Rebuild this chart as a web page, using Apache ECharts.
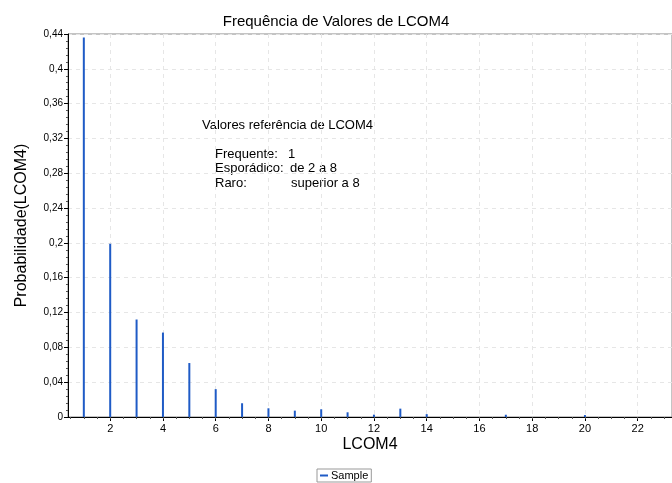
<!DOCTYPE html>
<html>
<head>
<meta charset="utf-8">
<script src="https://cdn.jsdelivr.net/npm/echarts@6/dist/echarts.min.js"></script>
<style>
    html, body { margin: 0; padding: 0; background: #fff; }
    #chart { width: 672px; height: 483px; }
</style>
</head>
<body>
<div id="chart"></div>
<script>
// valores de LCOM4 e probabilidade de cada um
const lcomValues = [1, 2, 3, 4, 5, 6, 7, 8, 9, 10, 11, 12, 13, 14, 17, 20];
const probabilities = [0.436, 0.199, 0.112, 0.097, 0.062, 0.032, 0.0158, 0.0100, 0.0073, 0.0089, 0.0054, 0.0027, 0.0096, 0.0033, 0.0026, 0.0022];
const yTicks = [0, 0.04, 0.08, 0.12, 0.16, 0.2, 0.24, 0.28, 0.32, 0.36, 0.4, 0.44];
const xTicks = [2, 4, 6, 8, 10, 12, 14, 16, 18, 20, 22];

// marcas menores do eixo x a cada 0,5
const xMinor = [];
for (let v = 0.5; v < 23.3; v += 0.5) xMinor.push(v);

const font = 'Liberation Sans, Arial, sans-serif';
const chart = echarts.init(document.getElementById('chart'));

const fmt = v => String(+v.toFixed(2)).replace('.', ',');

const options = {
    animation: false,
    title: {
        text: 'Frequência de Valores de LCOM4',
        left: 'center',
        top: 9,
        textStyle: { fontFamily: font, fontSize: 15, fontWeight: 'normal', color: '#000' }
    },
    legend: {
        bottom: 1,
        left: 317,
        data: [{ name: 'Sample', icon: 'rect' }],
        itemWidth: 8,
        itemHeight: 2,
        itemGap: 4,
        padding: [1, 3, 1, 3],
        borderColor: '#999',
        borderWidth: 1,
        borderRadius: 0,
        textStyle: { fontFamily: font, fontSize: 11, color: '#000', padding: [0, 0, 0, -2] }
    },
    grid: {
        left: 68,
        right: 0,
        top: 34,
        bottom: 66,
        show: true,
        borderColor: '#888',
        borderWidth: 1
    },
    xAxis: [
        {
            type: 'value',
            min: 0.4,
            max: 23.3,
            name: 'LCOM4',
            nameLocation: 'middle',
            nameGap: 20,
            nameMoveOverlap: false,
            nameTextStyle: { fontFamily: font, fontSize: 16, color: '#000' },
            axisLine: { show: true, lineStyle: { color: '#000', width: 1 } },
            axisTick: { show: true, length: 4, customValues: xTicks, lineStyle: { color: '#000' } },
            axisLabel: { fontFamily: font, fontSize: 11, color: '#000', margin: 6, customValues: xTicks },
            splitLine: { show: true, customValues: xTicks, lineStyle: { color: '#e6e6e6', type: [4, 4] } }
        },
        {
            type: 'value',
            position: 'bottom',
            min: 0.4,
            max: 23.3,
            axisLine: { show: false },
            axisTick: { show: true, length: 2, customValues: xMinor, lineStyle: { color: '#555' } },
            axisLabel: { show: false },
            splitLine: { show: false }
        }
    ],
    yAxis: {
        type: 'value',
        min: 0,
        max: 0.44,
        interval: 0.04,
        name: 'Probabilidade(LCOM4)',
        nameLocation: 'middle',
        nameGap: 38,
        nameMoveOverlap: false,
        nameTextStyle: { fontFamily: font, fontSize: 16, color: '#000' },
        axisLine: { show: true, lineStyle: { color: '#000', width: 1 } },
        axisTick: { show: true, length: 4, lineStyle: { color: '#000' } },
        minorTick: { show: true, splitNumber: 5, length: 2, lineStyle: { color: '#555' } },
        axisLabel: {
            fontFamily: font, fontSize: 10, color: '#000', margin: 5,
            formatter: v => (yTicks.some(t => Math.abs(t - v) < 1e-9) ? fmt(v) : '')
        },
        splitLine: { show: true, lineStyle: { color: '#e6e6e6', type: [4, 4] } }
    },
    graphic: [
        {
            type: 'text', left: 202, top: 119,
            style: { text: 'Valores referência de LCOM4', font: '13px ' + font, fill: '#000' }
        },
        {
            type: 'text', left: 215, top: 147,
            style: { text: 'Frequente:\nEsporádico:\nRaro:', font: '13px ' + font, fill: '#000', lineHeight: 14.5 }
        },
        {
            type: 'text', left: 288, top: 147,
            style: { text: '1', font: '13px ' + font, fill: '#000', lineHeight: 14.5 }
        },
        {
            type: 'text', left: 290, top: 161.5,
            style: { text: 'de 2 a 8', font: '13px ' + font, fill: '#000', lineHeight: 14.5 }
        },
        {
            type: 'text', left: 291, top: 176,
            style: { text: 'superior a 8', font: '13px ' + font, fill: '#000', lineHeight: 14.5 }
        }
    ],
    series: [
        {
            name: 'Sample',
            type: 'bar',
            barWidth: 2,
            color: '#1f5bc6',
            data: lcomValues.map((x, i) => [x, probabilities[i]])
        }
    ]
};

chart.setOption(options);
</script>
</body>
</html>
